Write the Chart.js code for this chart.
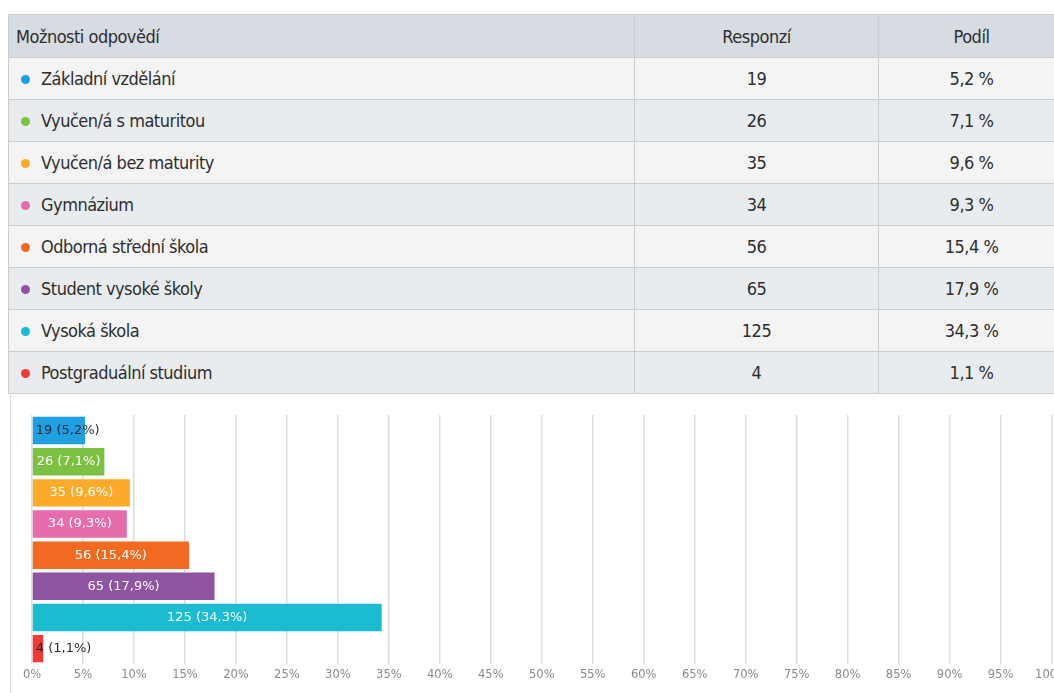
<!DOCTYPE html>
<html>
<head>
<meta charset="utf-8">
<script src="https://cdn.jsdelivr.net/npm/chart.js@4"></script>
<style>
  html, body { margin: 0; padding: 0; background: #fff; overflow: hidden; width: 1054px; height: 693px; }
  .wrap { position: absolute; left: 8px; top: 14px; width: 1080px; }
  table { border-collapse: collapse; table-layout: fixed; width: 1080px;
    font-family: "DejaVu Sans Condensed", "DejaVu Sans", sans-serif; font-stretch: condensed;
    font-size: 18px; letter-spacing: -0.5px; color: #2e2e2e; }
  th, td { height: 41px; padding: 0; border: 1px solid #c9cdd0; border-left: none; border-right: 1px solid #c9cdd0; font-weight: normal; }
  th { background: #d6dce1; text-align: left; height: 42px; }
  th:first-child, td:first-child { border-left: 1px solid #c9cdd0; padding-left: 7px; }
  tr:nth-child(odd) td { background: #f4f4f4; }
  tr:nth-child(even) td { background: #e9ecee; }
  .c { text-align: center; }
  .dot { display: inline-block; width: 9px; height: 9px; border-radius: 50%; margin: 0 11px 2px 5px; vertical-align: middle; }
  .chartbox { position: absolute; left: 10px; top: 394px; width: 1061px; height: 299px; border-left: 1px solid #ddd; }
</style>
</head>
<body>
<div class="wrap">
  <table>
    <colgroup><col style="width:626px"><col style="width:244px"><col style="width:210px"></colgroup>
    <thead><tr><th>Možnosti odpovědí</th><th class="c">Responzí</th><th class="c" style="padding-right:24px">Podíl</th></tr></thead>
    <tbody id="rows"></tbody>
  </table>
</div>
<div class="chartbox"><canvas id="bar-chart"></canvas></div>
<script>
const categories = ['Základní vzdělání', 'Vyučen/á s maturitou', 'Vyučen/á bez maturity', 'Gymnázium',
  'Odborná střední škola', 'Student vysoké školy', 'Vysoká škola', 'Postgraduální studium'];
const responses = [19, 26, 35, 34, 56, 65, 125, 4];
const shares = [5.2, 7.1, 9.6, 9.3, 15.4, 17.9, 34.3, 1.1];
const colors = ['#1fa0e0', '#7cc142', '#fbaa2a', '#e76cad', '#f26a21', '#8e53a1', '#1bbcd1', '#ef3a36'];

const fmt = v => v.toFixed(1).replace('.', ',');

// TABLE
const tbody = document.getElementById('rows');
categories.forEach((c, i) => {
  const tr = document.createElement('tr');
  tr.innerHTML = "<td><span class='dot' style='background:" + colors[i] + "'></span>" + c + "</td>" +
    "<td class='c'>" + responses[i] + "</td>" +
    "<td class='c' style='padding-right:24px'>" + fmt(shares[i]) + " %</td>";
  tbody.appendChild(tr);
});

// BAR LABELS
const barLabels = {
  id: 'barLabels',
  afterDatasetsDraw(chart) {
    const ctx = chart.ctx;
    const meta = chart.getDatasetMeta(0);
    ctx.save();
    ctx.font = '13px "DejaVu Sans"';
    ctx.textBaseline = 'middle';
    meta.data.forEach((bar, i) => {
      const txt = responses[i] + ' (' + fmt(shares[i]) + '%)';
      const w = ctx.measureText(txt).width;
      const barW = bar.x - bar.base;
      if (w + 4 < barW) {
        ctx.fillStyle = '#fff';
        ctx.textAlign = 'center';
        ctx.fillText(txt, (bar.x + bar.base) / 2, bar.y);
      } else {
        ctx.fillStyle = '#1f2a36';
        ctx.textAlign = 'left';
        ctx.fillText(txt, bar.base + 3, bar.y);
      }
    });
    ctx.restore();
  }
};

// BAR CHART
const ctxBar = document.getElementById('bar-chart').getContext('2d');
new Chart(ctxBar, {
  type: 'bar',
  data: {
    labels: categories,
    datasets: [{
      data: shares,
      backgroundColor: colors,
      borderWidth: 0,
      barPercentage: 0.88,
      categoryPercentage: 1
    }]
  },
  options: {
    indexAxis: 'y',
    responsive: true,
    maintainAspectRatio: false,
    animation: false,
    layout: { padding: { left: 13, top: 21, right: 0, bottom: 7 } },
    plugins: { legend: { display: false }, tooltip: { enabled: false } },
    scales: {
      x: {
        min: 0, max: 100,
        ticks: { stepSize: 5, callback: v => v + '%', color: '#8a8a8a', font: { family: 'DejaVu Sans', size: 11.5 }, padding: 4, maxRotation: 0 },
        grid: { color: '#dcdcdc', lineWidth: 1.5, tickLength: 0 },
        border: { display: false }
      },
      y: {
        ticks: { display: false },
        grid: { display: false },
        border: { display: false }
      }
    }
  },
  plugins: [barLabels]
});
</script>
</body>
</html>
